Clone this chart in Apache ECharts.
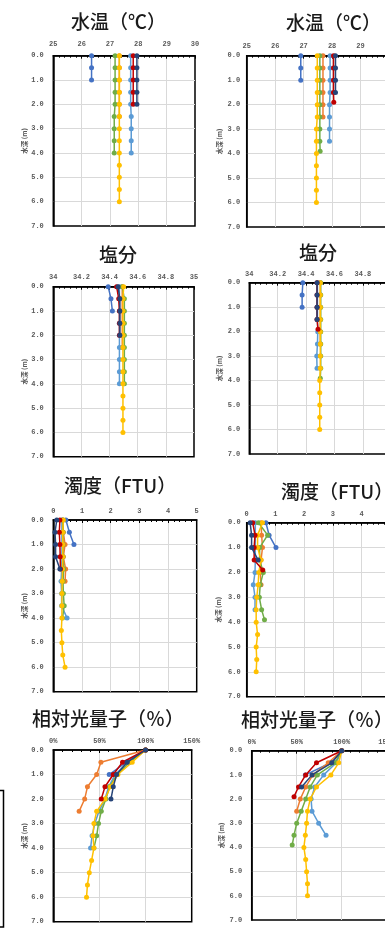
<!DOCTYPE html>
<html><head><meta charset="utf-8">
<script src="https://cdn.jsdelivr.net/npm/echarts@6/dist/echarts.min.js"></script>
<style>html,body{margin:0;padding:0;background:#fff}#c{width:385px;height:931px}</style>
</head><body><div id="c"></div>
<script>
// ---- series (stations) ----
const seriesKeys  = ['blue','orange','lblue','green','yellow','red','navy'];
const seriesNames = ['系列1','系列2','系列3','系列4','系列5','系列6','系列7'];

// ---- depths (m) per series, left column / right column ----
const depthsLeft = {
  blue:   [0,0.5,1],
  orange: [0,0.5,1,1.5,2,2.5],
  lblue:  [0,0.5,1,1.5,2,2.5,3,3.5,4],
  green:  [0,0.5,1,1.5,2,2.5,3,3.5,4],
  yellow: [0,0.5,1,1.5,2,2.5,3,3.5,4,4.5,5,5.5,6],
  red:    [0,0.5,1,1.5,2],
  navy:   [0,0.5,1,1.5,2]
};
const depthsRight = {
  blue:   [0,0.5,1],
  orange: [0,0.5,1,1.5,2,2.5],
  lblue:  [0,0.5,1,1.5,2,2.5,3,3.5],
  green:  [0,0.5,1,1.5,2,2.5,3,3.5,3.9],
  yellow: [0,0.5,1,1.5,2,2.5,3,3.5,4,4.5,5,5.5,6],
  red:    [0,0.5,1,1.5,1.9],
  navy:   [0,0.5,1,1.5]
};

// ---- 水温 ----
const tempLeft = {
  blue:   [26.35,26.35,26.35],
  orange: [27.33,27.33,27.33,27.33,27.33,27.33],
  lblue:  [27.73,27.73,27.73,27.73,27.73,27.75,27.75,27.75,27.75],
  green:  [27.18,27.18,27.18,27.18,27.18,27.15,27.15,27.15,27.15],
  yellow: [27.33,27.33,27.33,27.33,27.33,27.33,27.33,27.33,27.33,27.33,27.33,27.33,27.33],
  red:    [27.82,27.82,27.82,27.82,27.82],
  navy:   [27.95,27.95,27.95,27.95,27.95]
};
const tempRight = {
  blue:   [26.9,26.9,26.9],
  orange: [27.68,27.68,27.68,27.68,27.68,27.68],
  lblue:  [27.93,27.93,27.93,27.93,27.91,27.91,27.91,27.91],
  green:  [27.57,27.57,27.57,27.57,27.57,27.57,27.57,27.57,27.58],
  yellow: [27.48,27.48,27.48,27.48,27.48,27.48,27.45,27.45,27.45,27.45,27.45,27.45,27.45],
  red:    [28.05,28.05,28.05,28.05,28.06],
  navy:   [28.12,28.12,28.12,28.12]
};
// ---- 塩分 ----
const salLeft = {
  blue:   [34.39,34.41,34.42],
  orange: [34.49,34.49,34.49,34.49,34.49,34.49],
  lblue:  [34.47,34.47,34.47,34.47,34.47,34.47,34.47,34.47,34.47],
  green:  [34.49,34.505,34.505,34.505,34.505,34.505,34.505,34.505,34.505],
  yellow: [34.5,34.495,34.495,34.495,34.495,34.495,34.495,34.495,34.495,34.495,34.495,34.495,34.495],
  red:    [34.45,34.465,34.47,34.47,34.47],
  navy:   [34.46,34.473,34.473,34.473,34.473]
};
const salRight = {
  blue:   [34.377,34.372,34.372],
  orange: [34.5,34.5,34.5,34.5,34.5,34.5],
  lblue:  [34.48,34.48,34.48,34.48,34.482,34.48,34.475,34.477],
  green:  [34.503,34.503,34.503,34.503,34.503,34.503,34.503,34.503,34.5],
  yellow: [34.5,34.5,34.5,34.5,34.5,34.5,34.5,34.5,34.496,34.496,34.496,34.496,34.496],
  red:    [34.477,34.477,34.477,34.477,34.484],
  navy:   [34.477,34.477,34.477,34.477]
};
// ---- 濁度 ----
const turbLeft = {
  blue:   [0.44,0.56,0.72],
  orange: [0.33,0.35,0.41,0.35,0.43,0.41],
  lblue:  [0.3,0.3,0.3,0.3,0.29,0.27,0.29,0.29,0.48],
  green:  [0.33,0.34,0.34,0.34,0.36,0.34,0.35,0.38,0.32],
  yellow: [0.35,0.33,0.33,0.33,0.32,0.31,0.3,0.3,0.3,0.28,0.3,0.33,0.41],
  red:    [0.23,0.21,0.23,0.24,0.25],
  navy:   [0.12,0.06,0.08,0.08,0.23]
};
const turbRight = {
  blue:   [0.67,0.78,1.02],
  orange: [0.5,0.52,0.55,0.5,0.47,0.5],
  lblue:  [0.3,0.3,0.3,0.3,0.29,0.23,0.29,0.29],
  green:  [0.41,0.73,0.45,0.45,0.58,0.47,0.44,0.52,0.62],
  yellow: [0.55,0.38,0.38,0.5,0.42,0.4,0.35,0.33,0.33,0.38,0.33,0.35,0.33],
  red:    [0.21,0.29,0.26,0.26,0.56],
  navy:   [0.12,0.17,0.17,0.4]
};
// ---- 相対光量子 (%) ----
const lightLeft = {
  blue:   [100,79,60.6],
  orange: [100,51.6,47,37,34,28],
  lblue:  [100,81,67,60,56,49.5,45,42,40.4],
  green:  [100,83,69,61,57,52,49,47,44],
  yellow: [100,85.5,70,62,56,47,44,43,44,41.5,39,37,36],
  red:    [100,75,65,56,52],
  navy:   [100,80,68.6,65,62.5]
};
const lightRight = {
  blue:   [100,88,59.6],
  orange: [100,85,68,60,54,50],
  lblue:  [100,94,80,70,66,67,74.4,82.6],
  green:  [100,92.6,73,65,60,55,50,47,45],
  yellow: [100,96.7,88,72,65,62,61,59.6,58,60,61,62,62],
  red:    [100,72,60,52,47],
  navy:   [100,89,67,55.5]
};

// ---- tick labels / axes ----
const depthTicks = [0,1,2,3,4,5,6,7];
const tempTicks  = [25,26,27,28,29,30];
const salTicks   = [34,34.2,34.4,34.6,34.8,35];
const turbTicks  = [0,1,2,3,4,5];
const lightTicks = [0,50,100,150];

const titles = ['水温（℃）','水温（℃）','塩分','塩分','濁度（FTU）','濁度（FTU）','相対光量子（％）','相対光量子（％）'];
const yName = '水深 (m)';

const charts = [
  {data: tempLeft,  depths: depthsLeft,  ticks: tempTicks,  fmt: v => String(v)},
  {data: tempRight, depths: depthsRight, ticks: tempTicks,  fmt: v => String(v)},
  {data: salLeft,   depths: depthsLeft,  ticks: salTicks,   fmt: v => String(Math.round(v*10)/10)},
  {data: salRight,  depths: depthsRight, ticks: salTicks,   fmt: v => String(Math.round(v*10)/10)},
  {data: turbLeft,  depths: depthsLeft,  ticks: turbTicks,  fmt: v => String(v)},
  {data: turbRight, depths: depthsRight, ticks: turbTicks,  fmt: v => String(v)},
  {data: lightLeft, depths: depthsLeft,  ticks: lightTicks, fmt: v => Math.round(v) + '%'},
  {data: lightRight,depths: depthsRight, ticks: lightTicks, fmt: v => Math.round(v) + '%'}
];

// ---- layout (pixels) ----
const layout = [
  {l:53.3, t:55.7, w:141.7, h:170.3, tl:71,  tt:12,    xm:7.5, ym:9.5, ng:25},
  {l:246.7,t:55.7, w:142.3, h:171.3, tl:286, tt:13.5,  xm:6,   ym:6.5, ng:24},
  {l:53.3, t:286.7,w:140.7, h:170,   tl:99,  tt:245.5, xm:5.5, ym:9.5, ng:25},
  {l:249.3,t:282.7,w:142,   h:171.3, tl:299, tt:243,   xm:5,   ym:9,   ng:27},
  {l:53.3, t:520,  w:143.4, h:171.7, tl:64,  tt:476.5, xm:5,   ym:9.5, ng:25},
  {l:246.7,t:522.7,w:143.5, h:174,   tl:281, tt:482,   xm:5,   ym:6,   ng:25},
  {l:53.3, t:750,  w:138.4, h:171.7, tl:32,  tt:709.5, xm:5,   ym:9.5, ng:25},
  {l:251.7,t:750.7,w:135,   h:169.3, tl:241, tt:710.5, xm:4.5, ym:9.5, ng:27}
];

const colors = {blue:'#4472C4', orange:'#ED7D31', lblue:'#5B9BD5', green:'#70AD47', yellow:'#FFC000', red:'#C00000', navy:'#264478'};
const labelFont = {fontFamily:'Liberation Mono', fontSize:7, fontWeight:'bold', color:'#595959'};

const option = {
  backgroundColor:'#fff',
  animation:false,
  title: [], grid: [], xAxis: [], yAxis: [], series: [],
  graphic: [{
    type:'polyline', silent:true,
    shape:{points:[[0,790.5],[3.5,790.5],[3.5,927],[0,927]]},
    style:{stroke:'#000', lineWidth:1.5, fill:null}
  }]
};

charts.forEach((c, i) => {
  const L = layout[i];
  const tk = c.ticks;
  option.title.push({
    text: titles[i], left: L.tl, top: L.tt, padding: 0,
    textStyle:{fontFamily:'Noto Sans CJK JP', fontSize:19, fontWeight:500, color:'#1a1a1a', lineHeight:19}
  });
  option.grid.push({left:L.l, top:L.t, width:L.w, height:L.h, outerBoundsMode:'none', containLabel:false,
    show:true, borderColor:'#000', borderWidth:1.5, backgroundColor:'transparent'});
  option.xAxis.push({
    gridIndex:i, type:'value', position:'top',
    min: tk[0], max: tk[tk.length-1], interval: tk[1]-tk[0],
    axisLine:{show:true, onZero:false, lineStyle:{color:'#000', width:1.5}},
    axisTick:{show:true, inside:true, length:3, lineStyle:{color:'#000', width:1}},
    minorTick:{show:true, splitNumber:5, length:2, lineStyle:{color:'#000', width:1}},
    axisLabel:Object.assign({margin:L.xm, formatter:c.fmt, showMinLabel:true, showMaxLabel:true, hideOverlap:false}, labelFont),
    splitLine:{show:true, showMinLine:false, showMaxLine:false, lineStyle:{color:'#D9D9D9', width:1}},
    minorSplitLine:{show:false}
  });
  option.yAxis.push({
    gridIndex:i, type:'value', inverse:true,
    min: depthTicks[0], max: depthTicks[depthTicks.length-1], interval: depthTicks[1]-depthTicks[0],
    axisLine:{show:true, onZero:false, lineStyle:{color:'#000', width:1.5}},
    axisTick:{show:false},
    axisLabel:Object.assign({margin:L.ym, formatter:v => v.toFixed(1)}, labelFont),
    splitLine:{show:true, showMinLine:false, showMaxLine:false, lineStyle:{color:'#D9D9D9', width:1}},
    name: yName, nameLocation:'middle', nameGap:L.ng, nameRotate:90,
    nameTextStyle:{fontFamily:'Noto Sans CJK JP', fontSize:6.5, fontWeight:'bold', color:'#595959'}
  });
  seriesKeys.forEach((k, si) => {
    const vals = c.data[k];
    const deps = c.depths[k];
    option.series.push({
      name: seriesNames[si], type:'line', xAxisIndex:i, yAxisIndex:i,
      data: deps.map((d, j) => [vals[j], d]),
      symbol:'circle', symbolSize:5, showAllSymbol:true,
      lineStyle:{color:colors[k], width:1.5},
      itemStyle:{color:colors[k]},
      emphasis:{disabled:true}, silent:true, clip:false, z: 2 + si
    });
  });
});

const chart = echarts.init(document.getElementById('c'), null, {renderer:'canvas', width:385, height:931});
chart.setOption(option);
</script>
</body></html>
